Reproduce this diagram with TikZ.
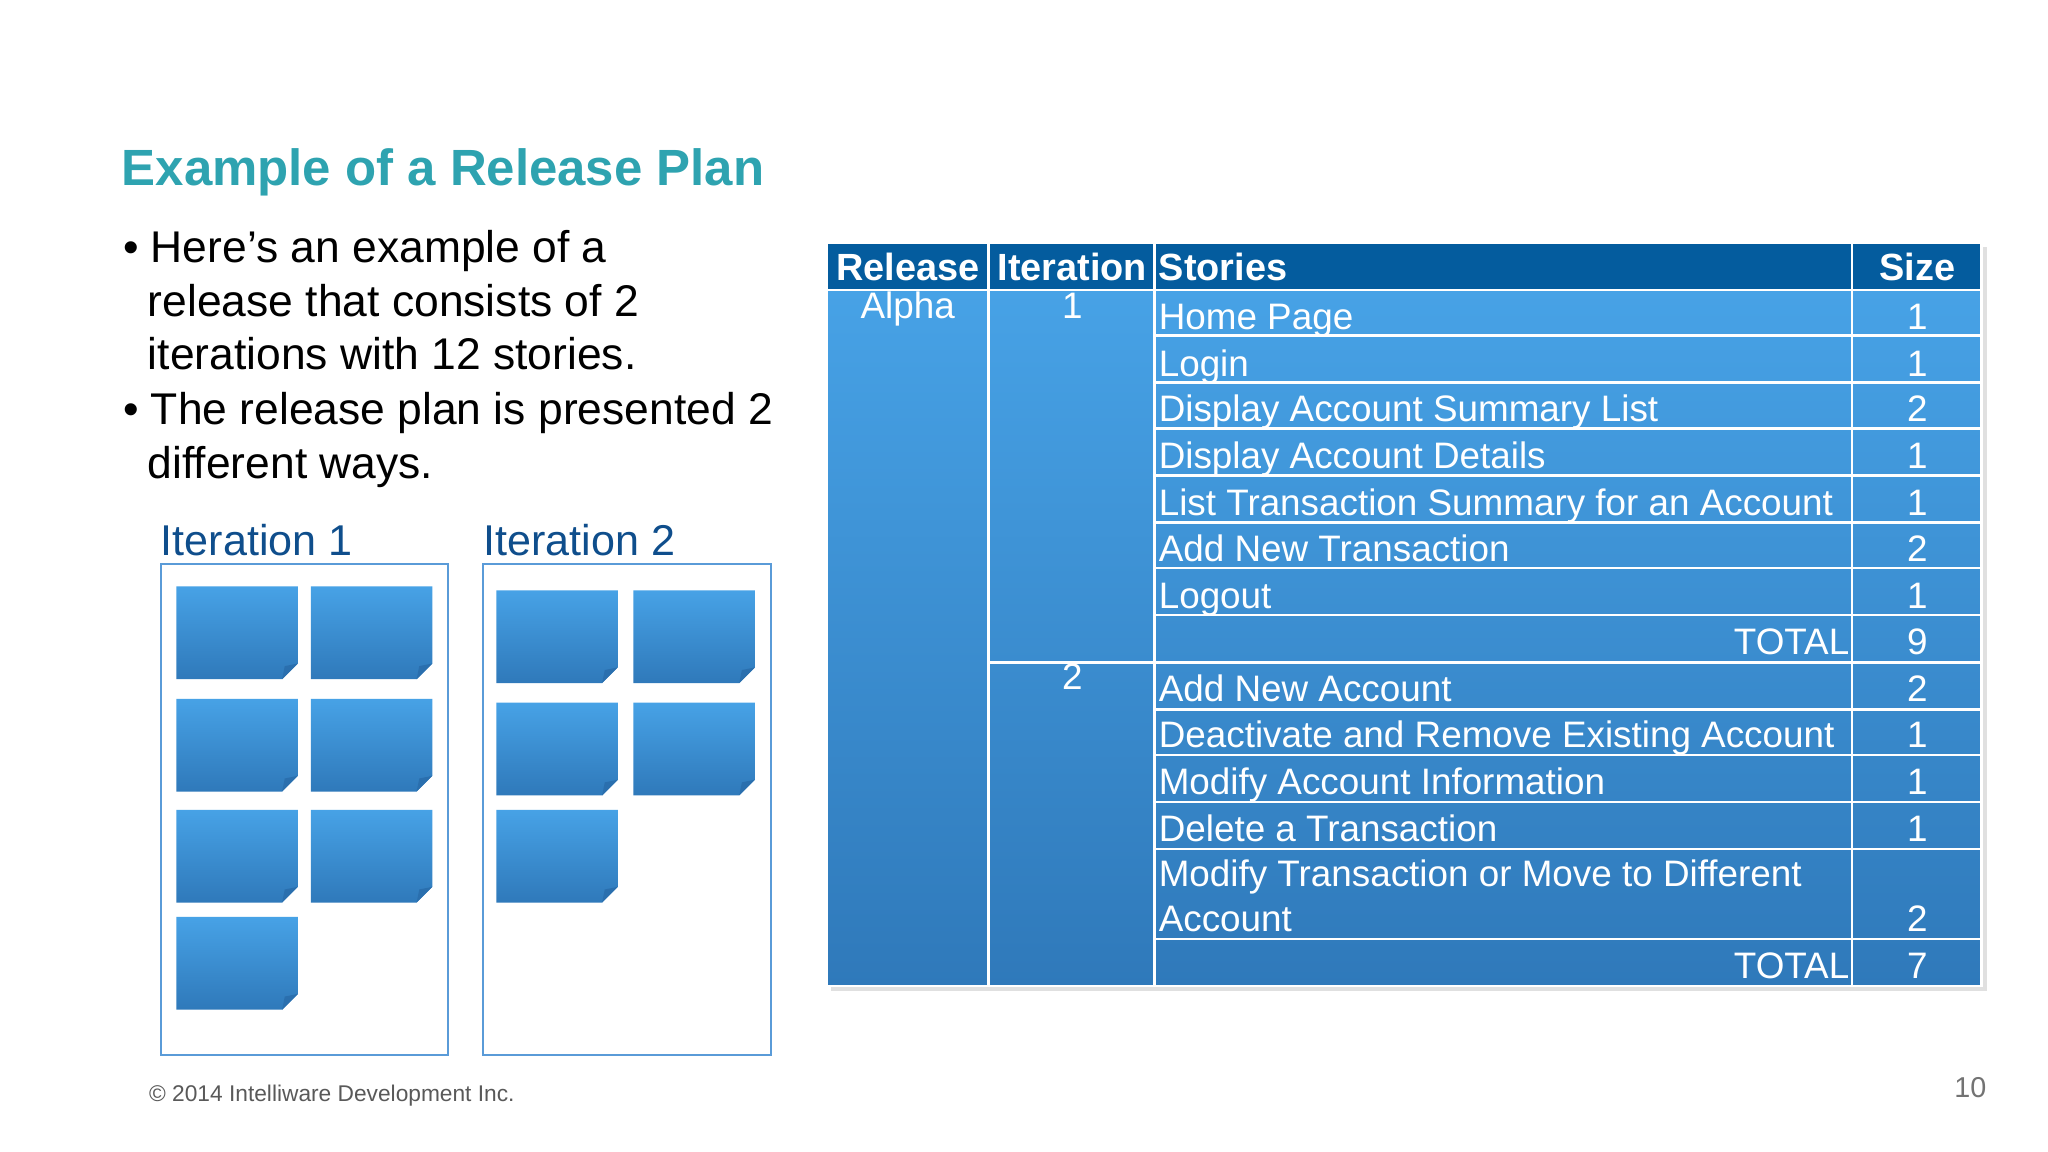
\documentclass[tikz,border=0pt]{standalone}
\usepackage{fontspec}
\setmainfont{Liberation Sans}
\begin{document}
\begin{tikzpicture}[x=1pt,y=-1pt,
  tt/.style={inner sep=0pt,text=white,font=\fontsize{28.2}{30}\selectfont},
  hh/.style={tt,font=\bfseries\fontsize{29}{30}\selectfont},
  bul/.style={inner sep=0pt,anchor=base west,font=\fontsize{34}{36}\selectfont},
  itl/.style={inner sep=0pt,anchor=base west,text=itblue,font=\fontsize{33}{36}\selectfont},
  frame/.style={draw=framec,line width=1.5pt}]
\definecolor{teal}{HTML}{2EA3B0}
\definecolor{itblue}{HTML}{0F4E8C}
\definecolor{hdr}{HTML}{045C9E}
\definecolor{ltop}{HTML}{47A2E6}
\definecolor{lbot}{HTML}{2F79BA}
\definecolor{framec}{HTML}{5A9BD8}
\definecolor{foldc}{HTML}{2A6FAE}
\useasboundingbox (0,0) rectangle (1568,882);
\fill[white] (0,0) rectangle (1568,882);
% title and bullets
\node[inner sep=0pt,anchor=base west,text=teal,font=\bfseries\fontsize{39}{40}\selectfont] (title) at (93,142) {Example of a Release Plan};
\node[bul] (b1) at (94,201) {\textbullet\ Here’s an example of a};
\node[bul] (b2) at (113,242) {release that consists of 2};
\node[bul] (b3) at (113,283) {iterations with 12 stories.};
\node[bul] (b4) at (94,325) {\textbullet\ The release plan is presented 2};
\node[bul] (b5) at (113,366) {different ways.};
% iteration boxes
\node[itl] (i1) at (123,425) {Iteration 1};
\node[itl] (i2) at (370,425) {Iteration 2};
\draw[frame] (123,432) rectangle (343,808);
\draw[frame] (370,432) rectangle (590,808);
\newcommand{\stick}[2]{%
  \shade[top color=ltop,bottom color=lbot] (#1,#2) -- ++(93,0) -- ++(0,59) -- ++(-12,12) -- ++(-81,0) -- cycle;
  \fill[foldc] (#1+93,#2+59) -- ++(-12,12) -- ++(2,-10) -- cycle;}
\foreach \x/\y in {135/449,238/449,135/535,238/535,135/620,238/620,135/702,
                   380/452,485/452,380/538,485/538,380/620} {\stick{\x}{\y}}
% table
\fill[black!12] (636,189) rectangle (1521,759);
\fill[hdr] (633,186) rectangle (1517,222);
\shade[top color=ltop,bottom color=lbot] (633,222) rectangle (1517,755);
\begin{scope}[white,line width=2pt]
\foreach \x in {757,884,1418} \draw (\x,186) -- (\x,755);
\foreach \y in {257,293,328,364,400,435,471,543,578,614,650,719} \draw (884,\y) -- (1517,\y);
\foreach \y in {222,507} \draw (757,\y) -- (1517,\y);
\draw (633,222) -- (757,222);
\draw (633,186) rectangle (1517,755);
\end{scope}
\node[hh,anchor=base] (h1) at (695,215) {Release};
\node[hh,anchor=base] (h2) at (821,215) {Iteration};
\node[hh,anchor=base west] (h3) at (887,215) {Stories};
\node[hh,anchor=base] (h4) at (1468,215) {Size};
\node[tt,anchor=base] (alpha) at (695,244) {Alpha};
\node[tt,anchor=base] (it1) at (821,244) {1};
\node[tt,anchor=base] (it2) at (821,528) {2};
\foreach \b/\s/\n [count=\i] in {
  252/Home Page/1, 288/Login/1, 323/Display Account Summary List/2,
  359/Display Account Details/1, 395/List Transaction Summary for an Account/1,
  430/Add New Transaction/2, 466/Logout/1, 537/Add New Account/2,
  572/Deactivate and Remove Existing Account/1, 608/Modify Account Information/1,
  644/Delete a Transaction/1, 713/Account/2} {
  \node[tt,anchor=base west] (s\i) at (887,\b) {\s};
  \node[tt,anchor=base] (z\i) at (1468,\b) {\n};
}
\node[tt,anchor=base west] (s13) at (887,679) {Modify Transaction or Move to Different};
\node[tt,anchor=base east] (t1) at (1416,501) {TOTAL};
\node[tt,anchor=base] (t1n) at (1468,501) {9};
\node[tt,anchor=base east] (t2) at (1416,749) {TOTAL};
\node[tt,anchor=base] (t2n) at (1468,749) {7};
% footer
\node[inner sep=0pt,anchor=base west,text=black!65,font=\fontsize{17.4}{20}\selectfont] (copy) at (114,843) {© 2014 Intelliware Development Inc.};
\node[inner sep=0pt,anchor=base east,text=black!55,font=\fontsize{22}{24}\selectfont] (pg) at (1521,840) {10};
\end{tikzpicture}
\end{document}
